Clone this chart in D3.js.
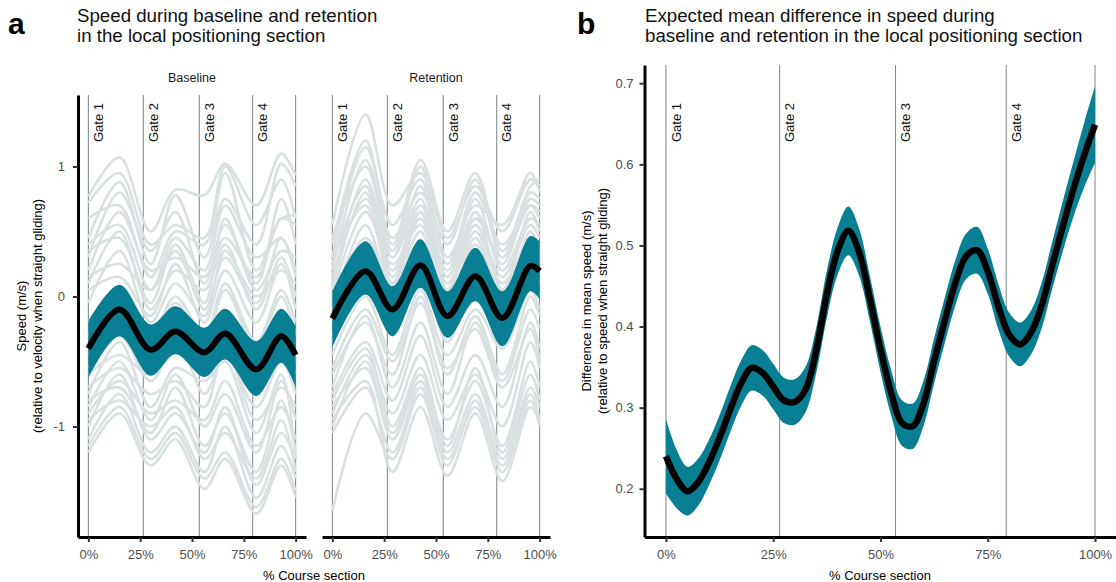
<!DOCTYPE html>
<html>
<head>
<meta charset="utf-8">
<script src="https://cdn.jsdelivr.net/npm/d3@7"></script>
<style>
	body { margin: 0; background: #fff; }
	svg { display: block; font-family: "Liberation Sans", Arial, sans-serif; }
</style>
</head>
<body>
<svg id="chart" width="1116" height="582"></svg>
<script>
/* ---- data ---- */
const sectionLines = [0, 26.5, 53.5, 79.3, 100]
const gatePct = [0, 26.5, 53.5, 79.3]
const gateLabels = ["Gate 1", "Gate 2", "Gate 3", "Gate 4"]
const xTicks = [0, 25, 50, 75, 100]
const leftYTicks = [-1, 0, 1]
const rightYTicks = [0.2, 0.3, 0.4, 0.5, 0.6, 0.7]

// baseline facet (% course, speed m/s)
const baselineKnots = [0, 15, 30, 42, 56, 66, 81, 93, 100]
const baselineMean = [-0.40, -0.10, -0.41, -0.27, -0.43, -0.285, -0.56, -0.305, -0.45]
const baselineUpper = [-0.19, 0.09, -0.215, -0.075, -0.24, -0.095, -0.345, -0.095, -0.23]
const baselineLower = [-0.625, -0.305, -0.61, -0.445, -0.62, -0.485, -0.765, -0.51, -0.70]
const baselineRiders = [
	[0.77, 1.07, 0.50, 0.82, 0.78, 1.02, 0.70, 1.10, 0.93],
	[0.72, 0.95, 0.40, 0.55, 0.45, 1.00, 0.55, 0.90, 0.60],
	[0.45, 0.88, 0.25, 0.78, 0.30, 0.75, 0.40, 1.02, 0.85],
	[0.60, 0.70, 0.15, 0.50, 0.40, 0.95, 0.20, 0.60, 0.62],
	[0.30, 0.80, 0.35, 0.65, 0.10, 0.55, 0.10, 0.75, 0.40],
	[0.40, 0.55, 0.05, 0.45, 0.20, 0.70, 0.30, 0.45, 0.20],
	[0.20, 0.65, 0.20, 0.30, 0.15, 0.45, 0.15, 0.60, 0.55],
	[0.35, 0.45, -0.05, 0.40, -0.05, 0.60, 0.05, 0.35, 0.30],
	[0.10, 0.50, -0.10, 0.20, 0.05, 0.40, -0.10, 0.30, 0.00],
	[0.15, 0.25, 0.05, 0.35, -0.10, 0.30, -0.05, 0.45, 0.15],
	[-0.05, 0.35, -0.20, 0.10, -0.15, 0.35, 0.00, 0.20, 0.10],
	[0.05, 0.15, -0.15, 0.25, -0.20, 0.20, -0.20, 0.25, -0.10],
	[-0.20, 0.05, -0.30, 0.00, -0.30, 0.10, -0.35, 0.05, -0.20],
	[-0.30, 0.00, -0.35, -0.05, -0.35, 0.05, -0.40, 0.00, -0.30],
	[-0.45, -0.20, -0.50, -0.20, -0.50, -0.15, -0.60, -0.20, -0.50],
	[-0.55, -0.30, -0.65, -0.40, -0.55, -0.25, -0.70, -0.35, -0.60],
	[-0.60, -0.45, -0.60, -0.30, -0.75, -0.45, -0.85, -0.50, -0.75],
	[-0.75, -0.35, -0.85, -0.55, -0.65, -0.50, -1.05, -0.60, -1.25],
	[-0.70, -0.55, -0.75, -0.65, -0.85, -0.40, -0.95, -0.70, -0.85],
	[-0.85, -0.50, -0.95, -0.60, -1.00, -0.75, -1.20, -0.65, -0.95],
	[-0.90, -0.65, -0.90, -0.80, -0.95, -0.65, -1.15, -0.85, -1.10],
	[-0.80, -0.70, -1.05, -0.70, -1.15, -0.90, -1.35, -0.80, -1.20],
	[-1.00, -0.60, -1.10, -0.90, -1.20, -0.85, -1.45, -1.05, -1.25],
	[-0.95, -0.80, -1.00, -0.85, -1.25, -1.05, -1.40, -0.95, -1.35],
	[-1.10, -0.75, -1.20, -1.00, -1.35, -1.00, -1.55, -1.15, -1.40],
	[-1.15, -0.85, -1.25, -1.05, -1.40, -1.20, -1.62, -1.25, -1.50],
	[-1.20, -0.90, -1.30, -1.10, -1.48, -1.25, -1.67, -1.30, -1.55]
]

// retention facet
const retentionKnots = [0, 16, 29, 42.5, 55.5, 69, 82, 95.5, 100]
const retentionMean = [-0.17, 0.195, -0.10, 0.24, -0.15, 0.155, -0.165, 0.235, 0.195]
const retentionUpper = [0.04, 0.425, 0.08, 0.44, 0.04, 0.375, 0.04, 0.465, 0.425]
const retentionLower = [-0.395, 0.015, -0.305, 0.067, -0.318, -0.036, -0.382, 0.04, -0.023]
const retentionRiders = [
	[0.55, 1.40, 0.70, 0.95, 0.45, 0.85, 0.50, 0.90, 0.85],
	[0.40, 1.20, 0.40, 1.05, 0.50, 0.95, 0.35, 0.85, 0.90],
	[0.30, 1.15, 0.55, 0.90, 0.30, 0.70, 0.55, 0.95, 0.80],
	[0.45, 1.00, 0.35, 1.00, 0.25, 0.80, 0.40, 0.70, 0.60],
	[0.20, 1.05, 0.45, 0.80, 0.40, 0.90, 0.30, 0.80, 0.75],
	[0.10, 0.90, 0.30, 0.85, 0.15, 0.65, 0.25, 0.75, 0.70],
	[0.25, 0.85, 0.20, 0.70, 0.20, 0.75, 0.20, 0.60, 0.55],
	[0.15, 0.75, 0.30, 0.75, 0.05, 0.60, 0.30, 0.70, 0.65],
	[0.05, 0.80, 0.15, 0.65, 0.10, 0.55, 0.15, 0.55, 0.45],
	[0.30, 0.70, 0.10, 0.60, 0.00, 0.65, 0.05, 0.65, 0.50],
	[0.00, 0.65, 0.25, 0.55, 0.05, 0.50, 0.10, 0.45, 0.40],
	[-0.10, 0.55, 0.05, 0.65, -0.05, 0.45, 0.00, 0.50, 0.35],
	[-0.05, 0.45, 0.10, 0.50, -0.10, 0.40, 0.05, 0.45, 0.30],
	[-0.20, 0.35, -0.05, 0.40, -0.15, 0.30, -0.15, 0.40, 0.25],
	[-0.35, 0.15, -0.30, 0.20, -0.35, 0.15, -0.30, 0.20, 0.10],
	[-0.30, 0.05, -0.20, 0.10, -0.30, 0.00, -0.35, 0.10, 0.00],
	[-0.45, 0.00, -0.45, 0.05, -0.45, -0.10, -0.40, 0.05, -0.10],
	[-0.55, -0.10, -0.50, -0.05, -0.60, -0.15, -0.60, 0.00, -0.15],
	[-0.60, -0.20, -0.60, 0.00, -0.55, -0.25, -0.70, -0.25, -0.50],
	[-0.70, -0.15, -0.70, -0.20, -0.75, -0.20, -0.65, -0.10, -0.25],
	[-0.75, -0.35, -0.80, -0.30, -0.85, -0.45, -0.85, -0.20, -0.40],
	[-0.80, -0.40, -1.00, -0.55, -1.15, -0.55, -1.20, -0.60, -0.80],
	[-0.90, -0.45, -0.90, -0.45, -0.95, -0.60, -1.00, -0.35, -0.55],
	[-0.85, -0.55, -1.10, -0.65, -1.20, -0.75, -1.25, -0.70, -0.85],
	[-1.00, -0.50, -1.05, -0.60, -1.10, -0.65, -1.15, -0.50, -0.70],
	[-1.05, -0.70, -1.20, -0.70, -1.25, -0.85, -1.30, -0.75, -0.95],
	[-0.95, -0.65, -1.35, -0.85, -1.38, -0.90, -1.42, -0.85, -0.96],
	[-1.65, -0.90, -1.25, -0.75, -1.30, -0.80, -1.35, -0.80, -1.00]
]

// expected mean difference (retention - baseline)
const diffPct = [0, 2.5, 5, 7.5, 10, 12.5, 15, 17.5, 20, 22.5, 25, 27.5, 30, 32.5, 35, 37.5, 40, 42.5, 45, 47.5, 50,
	52.5, 55, 57.5, 60, 62.5, 65, 67.5, 70, 72.5, 75, 77.5, 80, 82.5, 85, 87.5, 90, 92.5, 95, 97.5, 100]
const diffMean = [0.240, 0.212, 0.197, 0.208, 0.232, 0.263, 0.298, 0.330, 0.349, 0.343, 0.326, 0.309, 0.307, 0.322,
	0.370, 0.440, 0.493, 0.518, 0.492, 0.435, 0.372, 0.318, 0.281, 0.277, 0.305, 0.358, 0.408, 0.455, 0.487, 0.494,
	0.468, 0.424, 0.390, 0.378, 0.392, 0.425, 0.475, 0.524, 0.570, 0.612, 0.649]
const diffUpper = [0.286, 0.248, 0.227, 0.237, 0.260, 0.291, 0.326, 0.358, 0.377, 0.371, 0.354, 0.337, 0.335, 0.350,
	0.398, 0.469, 0.522, 0.548, 0.521, 0.463, 0.400, 0.346, 0.309, 0.305, 0.333, 0.386, 0.436, 0.483, 0.515, 0.523,
	0.496, 0.452, 0.417, 0.405, 0.419, 0.453, 0.504, 0.555, 0.604, 0.652, 0.696]
const diffLower = [0.194, 0.176, 0.167, 0.179, 0.204, 0.235, 0.270, 0.302, 0.321, 0.315, 0.298, 0.281, 0.279, 0.294,
	0.342, 0.411, 0.464, 0.488, 0.463, 0.407, 0.344, 0.290, 0.253, 0.249, 0.277, 0.330, 0.380, 0.427, 0.459, 0.465,
	0.440, 0.396, 0.363, 0.351, 0.365, 0.397, 0.446, 0.493, 0.536, 0.572, 0.602]

const colours = {
	teal: "#097f93",
	rider: "#d9e0e1",
	gate: "#76878e",
	ink: "#000000",
	tick: "#4d4d4d"
}

const svg = d3.select("#chart")

/* ---- scales ---- */
const leftY = d3.scaleLinear().domain([-1.85, 1.55]).range([537, 95])
const rightY = d3.scaleLinear().domain([0.1405, 0.7225]).range([537, 65])
const rightX = d3.scaleLinear().domain([-5, 105]).range([644.5, 1116.5])

const facets = [
	{
		name: "Baseline",
		x: d3.scaleLinear().domain([-5, 105]).range([78, 306]),
		knots: baselineKnots, riders: baselineRiders,
		mean: baselineMean, upper: baselineUpper, lower: baselineLower
	},
	{
		name: "Retention",
		x: d3.scaleLinear().domain([-5, 105]).range([322, 550]),
		knots: retentionKnots, riders: retentionRiders,
		mean: retentionMean, upper: retentionUpper, lower: retentionLower
	}
]

const smooth = d3.curveCatmullRom.alpha(0.5)

const lineGen = (x, y, knots) =>
	d3.line().x((d, i) => x(knots[i])).y(d => y(d)).curve(smooth)

const bandGen = (x, y, knots, lower) =>
	d3.area().x((d, i) => x(knots[i])).y0((d, i) => y(lower[i])).y1(d => y(d)).curve(smooth)

/**
 * Vertical gate lines and their rotated labels
 */
function drawGates(g, x, y) {
	g.append("g")
		.selectAll("line")
		.data(sectionLines)
		.enter()
		.append("line")
		.attr("x1", d => x(d))
		.attr("x2", d => x(d))
		.attr("y1", y.range()[1])
		.attr("y2", y.range()[0])
		.attr("stroke", colours.gate)
		.attr("stroke-width", 1)
}

function drawGateLabels(g, x) {
	g.append("g")
		.selectAll("text")
		.data(gateLabels)
		.enter()
		.append("text")
		.attr("transform", (d, i) => `translate(${x(gatePct[i]) + 10},103) rotate(-90)`)
		.attr("text-anchor", "end")
		.attr("dy", "0.35em")
		.attr("font-size", 13)
		.attr("fill", "#111")
		.text(d => d)
}

function styleAxis(a) {
	a.select(".domain").attr("stroke", colours.ink).attr("stroke-width", 3)
	a.selectAll(".tick line").attr("stroke", "#333").attr("stroke-width", 2)
	a.selectAll(".tick text").attr("fill", colours.tick).attr("font-size", 13)
		.attr("font-family", "Liberation Sans, Arial, sans-serif")
}

const pctFormat = d => `${d}%`

/* ---- panel a ---- */
facets.forEach(f => {
	const g = svg.append("g").attr("class", "facet")
	drawGates(g, f.x, leftY)

	g.append("g")
		.selectAll("path")
		.data(f.riders)
		.enter()
		.append("path")
		.attr("d", lineGen(f.x, leftY, f.knots))
		.attr("fill", "none")
		.attr("stroke", colours.rider)
		.attr("stroke-width", 2.6)

	g.append("path")
		.attr("d", bandGen(f.x, leftY, f.knots, f.lower)(f.upper))
		.attr("fill", colours.teal)

	g.append("path")
		.attr("d", lineGen(f.x, leftY, f.knots)(f.mean))
		.attr("fill", "none")
		.attr("stroke", colours.ink)
		.attr("stroke-width", 6)

	drawGateLabels(g, f.x)

	g.append("text")
		.attr("x", d3.mean(f.x.range()))
		.attr("y", 82)
		.attr("text-anchor", "middle")
		.attr("font-size", 12.5)
		.attr("fill", "#1a1a1a")
		.text(f.name)

	const xa = g.append("g")
		.attr("transform", "translate(0,537)")
		.call(d3.axisBottom(f.x).tickValues(xTicks).tickFormat(pctFormat).tickSize(5).tickSizeOuter(0).tickPadding(8))
	styleAxis(xa)
})

const ya = svg.append("g")
	.attr("transform", "translate(78,0)")
	.call(d3.axisLeft(leftY).tickValues(leftYTicks).tickFormat(d => String(d)).tickSize(5).tickSizeOuter(0).tickPadding(8))
styleAxis(ya)

svg.append("text")
	.attr("x", 314)
	.attr("y", 580)
	.attr("text-anchor", "middle")
	.attr("font-size", 13)
	.text("% Course section")

svg.append("g")
	.attr("transform", "translate(0,316) rotate(-90)")
	.selectAll("text")
	.data(["Speed (m/s)", "(relative to velocity when straight gliding)"])
	.enter()
	.append("text")
	.attr("y", (d, i) => 21 + i * 16)
	.attr("dy", "0.35em")
	.attr("text-anchor", "middle")
	.attr("font-size", 13)
	.text(d => d)

/* ---- panel b ---- */
const gb = svg.append("g")
drawGates(gb, rightX, rightY)

gb.append("path")
	.attr("d", bandGen(rightX, rightY, diffPct, diffLower)(diffUpper))
	.attr("fill", colours.teal)

gb.append("path")
	.attr("d", lineGen(rightX, rightY, diffPct)(diffMean))
	.attr("fill", "none")
	.attr("stroke", colours.ink)
	.attr("stroke-width", 6.5)

drawGateLabels(gb, rightX)

const xb = gb.append("g")
	.attr("transform", "translate(0,537)")
	.call(d3.axisBottom(rightX).tickValues(xTicks).tickFormat(pctFormat).tickSize(5).tickSizeOuter(0).tickPadding(8))
styleAxis(xb)

const yb = gb.append("g")
	.attr("transform", "translate(644.5,0)")
	.call(d3.axisLeft(rightY).tickValues(rightYTicks).tickFormat(d3.format(".1f")).tickSize(5).tickSizeOuter(0).tickPadding(6))
styleAxis(yb)

svg.append("text")
	.attr("x", 880)
	.attr("y", 580)
	.attr("text-anchor", "middle")
	.attr("font-size", 13)
	.text("% Course section")

svg.append("g")
	.attr("transform", "translate(0,301) rotate(-90)")
	.selectAll("text")
	.data(["Difference in mean speed (m/s)", "(relative to speed when straight gliding)"])
	.enter()
	.append("text")
	.attr("y", (d, i) => 586 + i * 16)
	.attr("dy", "0.35em")
	.attr("text-anchor", "middle")
	.attr("font-size", 13)
	.text(d => d)

/* ---- titles ---- */
const titles = [
	{ tag: "a", x: 8, tx: 77, lines: ["Speed during baseline and retention", "in the local positioning section"] },
	{ tag: "b", x: 577, tx: 645, lines: ["Expected mean difference in speed during", "baseline and retention in the local positioning section"] }
]

titles.forEach(t => {
	svg.append("text")
		.attr("x", t.x)
		.attr("y", 34)
		.attr("font-size", 30)
		.attr("font-weight", "bold")
		.text(t.tag)
	svg.append("g")
		.selectAll("text")
		.data(t.lines)
		.enter()
		.append("text")
		.attr("x", t.tx)
		.attr("y", (d, i) => 22 + i * 19.5)
		.attr("font-size", 18.7)
		.attr("fill", "#111")
		.text(d => d)
})
</script>
</body>
</html>
